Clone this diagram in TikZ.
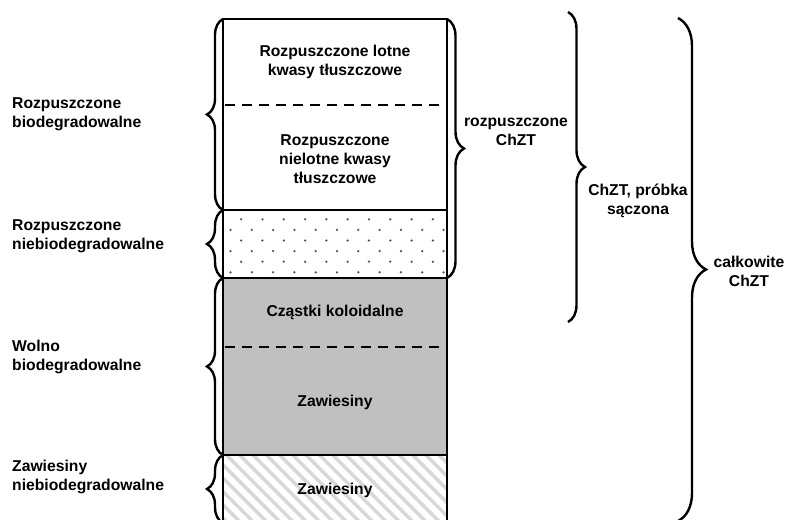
\documentclass[tikz,border=0pt]{standalone}
\usepackage{fontspec}
\setmainfont{Liberation Sans}
\usepackage{tikz}
\usetikzlibrary{decorations.pathreplacing}
\definecolor{fillgray}{RGB}{192,192,192}
\definecolor{stripegray}{RGB}{216,216,216}
\definecolor{dotgray}{RGB}{80,80,80}

\begin{document}
\begin{tikzpicture}[x=1pt,y=-1pt,
    txt/.style={font=\fontsize{15.7}{19}\selectfont\bfseries, align=center, inner sep=0pt},
    sidetxt/.style={txt, align=left, anchor=west},
    band/.style={draw, line width=2pt},
    sepline/.style={line width=2pt, dash pattern=on 10pt off 7pt},
    curly/.style={decorate, decoration={brace, amplitude=#1}, line width=2.4pt}]
  \useasboundingbox (0,0) rectangle (786,519);

  % column edges
  \coordinate (l0) at (223,19);
  \coordinate (l1) at (223,210);
  \coordinate (l2) at (223,278);
  \coordinate (l3) at (223,455);
  \coordinate (l4) at (223,523);
  \coordinate (r0) at (447,19);
  \coordinate (r1) at (447,210);
  \coordinate (r2) at (447,278);
  \coordinate (r3) at (447,455);
  \coordinate (r4) at (447,523);
  \coordinate (f0) at (568,12);
  \coordinate (f1) at (568,322);
  \coordinate (t0) at (678,18);
  \coordinate (t1) at (678,521);

  % hatched band
  \begin{scope}
    \clip (l3) rectangle (r4);
    \foreach \x in {120,133.3,...,460}
      \draw[stripegray, line width=3.5pt] (\x,455) -- ++(70,70);
  \end{scope}
  % gray band
  \fill[fillgray] (l2) rectangle (r3);
  % dotted band
  \begin{scope}
    \clip (l1) rectangle (r2);
    \foreach \r in {0,...,5}
      \foreach \c in {0,...,10}
        \fill[dotgray] ({230.5+21.3*\c+10.65*(1-mod(\r,2))},{219.3+10.6*\r}) circle (1.25pt);
  \end{scope}

  % outlines
  \draw[band] (l4) -- (l0) -- (r0) -- (r4);
  \draw[band] (l1) -- (r1);
  \draw[band] (l2) -- (r2);
  \draw[band] (l3) -- (r3);
  \draw[sepline] (225,105) -- (445,105);
  \draw[sepline] (225,347) -- (445,347);

  % texts in the column
  \node[txt] (lotne) at (335,62) {Rozpuszczone lotne\\kwasy tłuszczowe};
  \node[txt] (nielotne) at (335,159) {Rozpuszczone\\nielotne kwasy\\tłuszczowe};
  \node[txt] (koloid) at (335,312) {Cząstki koloidalne};
  \node[txt] (zaw) at (335,402) {Zawiesiny};
  \node[txt] (zawnb) at (335,490) {Zawiesiny};

  % left side
  \node[sidetxt] (rozpbio) at (12,114) {Rozpuszczone\\biodegradowalne};
  \node[sidetxt] (rozpnbio) at (12,236) {Rozpuszczone\\niebiodegradowalne};
  \node[sidetxt] (wolno) at (12,357) {Wolno\\biodegradowalne};
  \node[sidetxt] (zawnbio) at (12,477) {Zawiesiny\\niebiodegradowalne};
  \draw[curly=16] (l1) -- (l0);
  \draw[curly=16] (l2) -- (l1);
  \draw[curly=16] (l3) -- (l2);
  \draw[curly=16] (l4) -- (l3);

  % right side
  \node[txt] (rozp) at (516,132) {rozpuszczone\\ChZT};
  \node[txt] (sacz) at (638,201) {ChZT, próbka\\sączona};
  \node[txt] (calk) at (749,271) {całkowite\\ChZT};
  \draw[curly=17] (r0) -- (r2);
  \draw[curly=17] (f0) -- (f1);
  \draw[curly=28] (t0) -- (t1);
\end{tikzpicture}
\end{document}
